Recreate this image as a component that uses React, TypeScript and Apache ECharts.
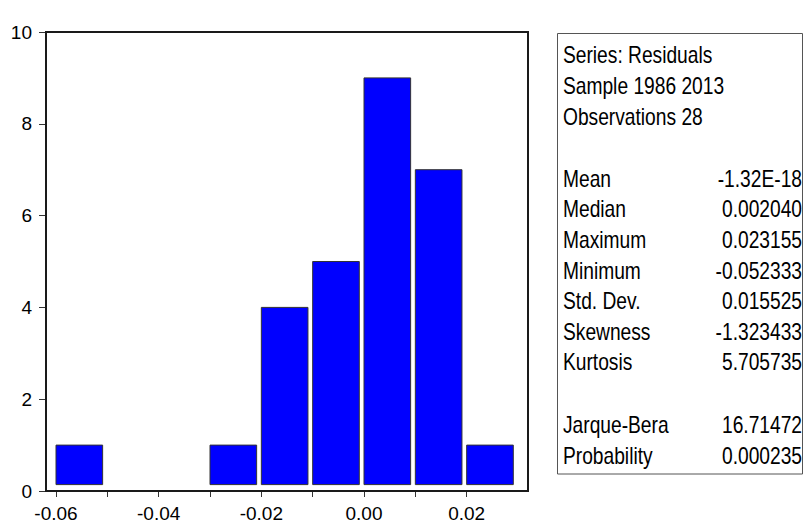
import React, { useEffect, useRef } from "react";
import * as echarts from "echarts";

// ---- data ----
const binWidth = 0.01;
const binStarts = [-0.06, -0.05, -0.04, -0.03, -0.02, -0.01, 0.0, 0.01, 0.02];
const counts = [1, 0, 0, 1, 4, 5, 9, 7, 1];
const xMin = -0.06;
const xMax = 0.03;
const yMin = 0;
const yMax = 10;

const headerLines = ["Series: Residuals", "Sample 1986 2013", "Observations 28"];
const statLabels = ["Mean", "Median", "Maximum", "Minimum", "Std. Dev.", "Skewness", "Kurtosis"];
const statValues = ["-1.32E-18", "0.002040", "0.023155", "-0.052333", "0.015525", "-1.323433", "5.705735"];
const testLabels = ["Jarque-Bera", "Probability"];
const testValues = ["16.71472", "0.000235"];

const AXIS_FONT = "'Liberation Sans', Arial, sans-serif";
const BOX_FONT = "'Liberation Sans', Arial, sans-serif";

export default function App() {
  const ref = useRef<HTMLDivElement>(null);

  useEffect(() => {
    if (!ref.current) return;
    const chart = echarts.init(ref.current, undefined, { renderer: "svg" });

    const barData = binStarts
      .map((s, i) => [s, counts[i]])
      .filter((d) => d[1] > 0);

    const graphics: any[] = [];
    // plot frame
    graphics.push({
      type: "rect",
      shape: { x: 46, y: 32, width: 482, height: 459 },
      style: { fill: "none", stroke: "#1a1a1a", lineWidth: 2 },
      z: 10,
    });
    // stats box
    graphics.push({
      type: "rect",
      shape: { x: 557.5, y: 33.5, width: 245, height: 440.5 },
      style: { fill: "none", stroke: "#555", lineWidth: 1 },
    });
    const textStyle = (text: string, x: number, y: number, align: string) => ({
      type: "text",
      x,
      y,
      scaleX: 0.8,
      style: {
        text,
        fill: "#000",
        fontSize: 24,
        fontFamily: BOX_FONT,
        textAlign: align,
        align,
        textVerticalAlign: "middle",
        verticalAlign: "middle",
      },
    });
    const headerY = [55, 85.5, 116.5];
    headerLines.forEach((t, i) => graphics.push(textStyle(t, 563, headerY[i], "left")));
    const statY0 = 178.5;
    const lineH = 30.6;
    statLabels.forEach((t, i) => {
      graphics.push(textStyle(t, 563, statY0 + i * lineH, "left"));
      graphics.push(textStyle(statValues[i], 802, statY0 + i * lineH, "right"));
    });
    const testY0 = 425;
    testLabels.forEach((t, i) => {
      graphics.push(textStyle(t, 563, testY0 + i * lineH, "left"));
      graphics.push(textStyle(testValues[i], 802, testY0 + i * lineH, "right"));
    });

    chart.setOption({
      animation: false,
      backgroundColor: "#ffffff",
      grid: { left: 56, top: 32, width: 462, height: 459, containLabel: false },
      xAxis: {
        type: "value",
        min: xMin,
        max: xMax,
        interval: 0.01,
        axisLine: { show: true, onZero: false, lineStyle: { color: "#1a1a1a", width: 2 } },
        axisTick: { show: true, length: 6, lineStyle: { color: "#333", width: 1 } },
        splitLine: { show: false },
        axisLabel: {
          margin: 13,
          fontSize: 19,
          fontFamily: AXIS_FONT,
          color: "#000",
          showMaxLabel: false,
          formatter: (v: number) => {
            const k = Math.round(v * 100);
            if (k % 2 !== 0) return "";
            return v.toFixed(2);
          },
        },
      },
      yAxis: {
        type: "value",
        min: yMin,
        max: yMax,
        interval: 2,
        offset: 10,
        axisLine: { show: true, onZero: false, lineStyle: { color: "#444", width: 2 } },
        axisTick: { show: true, length: 7, lineStyle: { color: "#333", width: 1 } },
        splitLine: { show: false },
        axisLabel: {
          margin: 14,
          fontSize: 19,
          fontFamily: AXIS_FONT,
          color: "#000",
        },
      },
      series: [
        {
          type: "custom",
          data: barData,
          renderItem: (params: any, api: any) => {
            const x0 = api.value(0);
            const h = api.value(1);
            const topLeft = api.coord([x0, h]);
            const bottomRight = api.coord([x0 + binWidth, 0]);
            const w = bottomRight[0] - topLeft[0] - 4.7;
            const bottom = bottomRight[1] - 6.4;
            return {
              type: "rect",
              shape: { x: topLeft[0], y: topLeft[1], width: w, height: bottom - topLeft[1] },
              style: { fill: "#0000ff", stroke: "#333", lineWidth: 1 },
            };
          },
        },
      ],
      graphic: graphics,
    });

    return () => chart.dispose();
  }, []);

  return (
    <div
      ref={ref}
      style={{ position: "fixed", left: 0, top: 0, width: 805, height: 527, background: "#fff" }}
    />
  );
}
